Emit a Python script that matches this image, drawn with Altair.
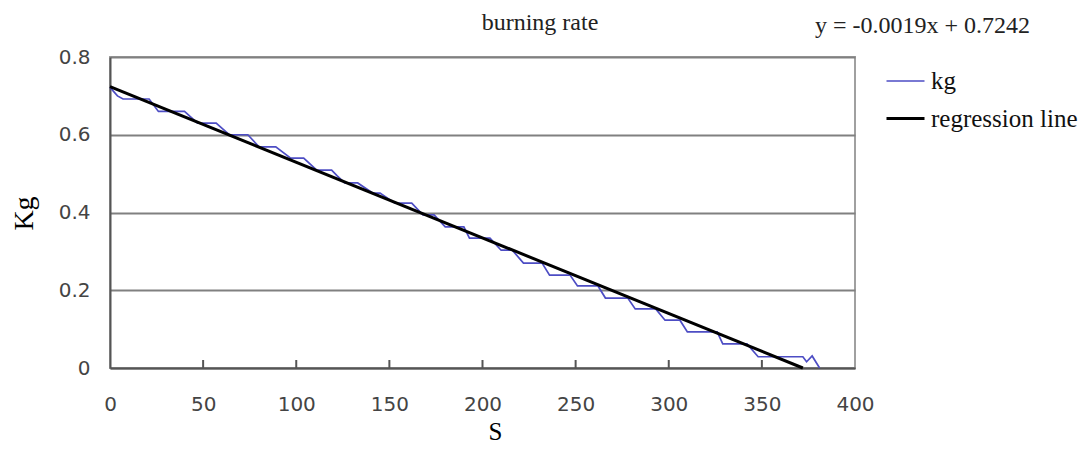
import altair as alt
import pandas as pd

# measured series (blue staircase)
S_KG = [0, 4, 7, 21, 26, 40, 47, 57, 64, 74, 80, 89, 97, 104, 111, 119, 122, 126, 133,
        141, 145, 153, 162, 168, 174, 180, 190, 193, 204, 210, 216, 222, 232, 236, 247,
        251, 262, 266, 278, 282, 293, 298, 306, 310, 326, 329, 342, 348, 372, 374, 377, 381]
KG = [0.722, 0.700, 0.692, 0.692, 0.660, 0.660, 0.630, 0.630, 0.600, 0.600, 0.569, 0.569,
      0.540, 0.540, 0.509, 0.509, 0.494, 0.476, 0.476, 0.450, 0.450, 0.424, 0.424, 0.394,
      0.394, 0.363, 0.363, 0.334, 0.334, 0.303, 0.303, 0.270, 0.270, 0.239, 0.239, 0.211,
      0.211, 0.180, 0.180, 0.152, 0.152, 0.123, 0.123, 0.093, 0.093, 0.062, 0.062, 0.029,
      0.029, 0.016, 0.031, 0.000]

# regression line end points
S_REG = [0, 372]
KG_REG = [0.724, 0.0]

SERIES = ["kg", "regression line"]
X_TICKS = [0, 50, 100, 150, 200, 250, 300, 350, 400]
INNER_TICKS = [50, 100, 150, 200, 250, 300, 350]
Y_TICKS = [0, 0.2, 0.4, 0.6, 0.8]
TITLE = ["burning rate"]
EQUATION = ["y = -0.0019x + 0.7242"]

df = pd.concat([
    pd.DataFrame({"S": S_KG, "Kg": KG, "series": SERIES[0]}),
    pd.DataFrame({"S": S_REG, "Kg": KG_REG, "series": SERIES[1]}),
], ignore_index=True)

SERIF = "Liberation Serif"
SANS = "DejaVu Sans"

legend = alt.Legend(
    title=None, orient="none", legendX=775, legendY=4,
    symbolType="stroke", symbolSize=1444, labelFont=SERIF, labelFontSize=25,
    labelColor="#111", labelOffset=5, rowPadding=4, padding=0,
)

x_enc = alt.X(
    "S:Q", scale=alt.Scale(domain=[0, 400], nice=False),
    axis=alt.Axis(values=X_TICKS, title="S", grid=False, ticks=False, labelFlush=False,
                  labelFont=SANS, labelFontSize=20, labelColor="#444", labelPadding=26,
                  domainColor="#555", domainWidth=2,
                  titleFont=SERIF, titleFontSize=25, titleFontWeight="normal",
                  titleColor="#000", titleX=385, titleY=71, titleBaseline="alphabetic",
                  titleAlign="center"),
)
y_enc = alt.Y(
    "Kg:Q", scale=alt.Scale(domain=[0, 0.8], nice=False),
    axis=alt.Axis(values=Y_TICKS, format=".1~f", title="Kg", grid=True, ticks=False,
                  labelFlush=False, gridColor="#808080", gridWidth=2,
                  labelFont=SANS, labelFontSize=20, labelColor="#444", labelPadding=20,
                  domainColor="#555", domainWidth=2,
                  titleFont=SERIF, titleFontSize=28, titleFontWeight="normal",
                  titleColor="#000", titleX=-78, titleY=156, titleBaseline="alphabetic",
                  titleAlign="center", titleAngle=270),
)

lines = alt.Chart(df).mark_line().encode(
    x=x_enc,
    y=y_enc,
    color=alt.Color("series:N", scale=alt.Scale(domain=SERIES, range=["#4d4dc4", "#000000"]),
                    legend=legend),
    strokeWidth=alt.StrokeWidth("series:N", scale=alt.Scale(domain=SERIES, range=[1.7, 3]),
                                legend=legend),
)

inner_ticks = alt.Chart(pd.DataFrame({"S": INNER_TICKS})).mark_rule(
    color="#555", strokeWidth=2
).encode(x="S:Q", y=alt.value(311), y2=alt.value(303))

title_txt = alt.Chart(pd.DataFrame({"t": TITLE})).mark_text(
    font=SERIF, fontSize=24, color="#222", align="center", baseline="alphabetic"
).encode(text="t:N", x=alt.value(430), y=alt.value(-27))

eq_txt = alt.Chart(pd.DataFrame({"t": EQUATION})).mark_text(
    font=SERIF, fontSize=24, color="#222", align="left", baseline="alphabetic"
).encode(text="t:N", x=alt.value(705), y=alt.value(-24))

chart = alt.layer(inner_ticks, lines, title_txt, eq_txt).properties(
    width=745, height=311,
    autosize=alt.AutoSizeParams(type="none"),
    padding={"left": 102, "top": 49, "right": 226, "bottom": 76},
    background="white",
).configure_view(stroke="#a0a0a0", strokeWidth=2)

chart.save("out.html", embed_options={"renderer": "svg", "actions": False})
